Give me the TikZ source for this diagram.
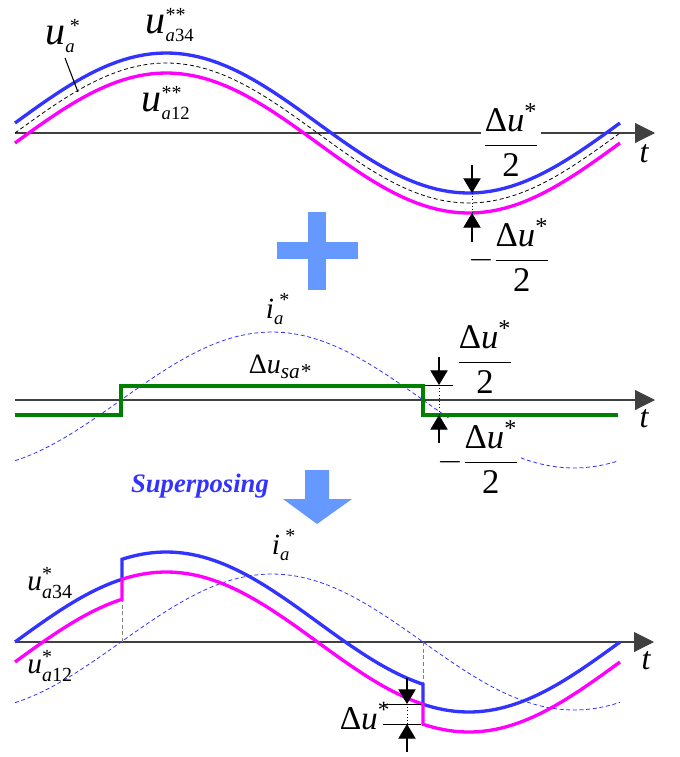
\documentclass[tikz,border=0pt]{standalone}
\usepackage{amsmath}
\usepackage{fontspec}
\setmainfont{Liberation Serif}
\usepackage{tikz}
\usetikzlibrary{arrows.meta}
\definecolor{WaveBlue}{HTML}{3333FF}
\definecolor{WaveMag}{HTML}{FF00FF}
\definecolor{WaveGreen}{HTML}{008000}
\definecolor{Sky}{HTML}{6699FF}
\newcommand{\fsz}[1]{\fontsize{#1}{#1}\selectfont}
\newcommand{\vu}{\text{\itshape u}}
\newcommand{\dlt}{\text{Δ}}
\newcommand{\half}{\dfrac{\dlt\vu^{\text{*}}}{\text{2}}}

\begin{document}
\begin{tikzpicture}[
      x=0.75pt, y=-0.75pt,
      axis/.style={draw=black!75, line width=0.8pt, -{Triangle[length=15pt,width=15pt]}},
      w34/.style={draw=WaveBlue, line width=2.5pt},
      w12/.style={draw=WaveMag, line width=2.5pt},
      refw/.style={draw=black, line width=0.6pt, dash pattern=on 3pt off 2pt},
      curw/.style={draw=WaveBlue, line width=0.6pt, dash pattern=on 3pt off 2pt},
      sqw/.style={draw=WaveGreen, line width=2.6pt},
      dimarr/.style={-{Triangle[length=11pt,width=13pt]}, line width=0.8pt},
      lbl/.style={inner sep=1pt},
      frac/.style={fill=white, inner sep=2pt, font=\fsz{26}}
    ]
      \useasboundingbox (0,0) rectangle (680,757);
      % top panel: reference and modulation waves
      \coordinate (axAs) at (15,133);
      \coordinate (axAe) at (655,133);
      \draw[axis] (axAs) -- (axAe);
      \node[lbl, font=\fsz{24}\itshape] (tA) at (644,154) {t};
      \node[frac] (hlfA) at (511,140) {$\half$};
      \draw[refw] plot[domain=15:620, samples=90] (\x,{133-70*sin((\x-15)/605*360)});
      \draw[w34] plot[domain=15:620, samples=90] (\x,{123-70*sin((\x-15)/605*360)});
      \draw[w12] plot[domain=15:620, samples=90] (\x,{143-70*sin((\x-15)/605*360)});
      \node[lbl, font=\fsz{30}] (lbUa) at (63,36) {$\vu_{\text{\fsz{14}\itshape a}}^{\,\text{\fsz{15}*}}$};
      \coordinate (lbUaEnd) at (78,92);
      \draw[line width=0.8pt] (65,58) -- (lbUaEnd);
      \node[lbl, font=\fsz{30}] (lbUa34) at (170,25) {$\vu_{\text{\fsz{14}\itshape a\upshape 34}}^{\text{\fsz{15}**}}$};
      \node[lbl, font=\fsz{30}] (lbUa12) at (166,103) {$\vu_{\text{\fsz{14}\itshape a\upshape 12}}^{\text{\fsz{15}**}}$};
      \node[lbl, font=\fsz{26}] (hlfB) at (509,255) {$-\half$};
      % plus sign
      \fill[Sky] (308,212) rectangle (326,290);
      \fill[Sky] (277,242) rectangle (358,259);
      % middle panel: common-mode square wave
      \coordinate (axBs) at (15,400);
      \coordinate (axBe) at (655,400);
      \draw[axis] (axBs) -- (axBe);
      \node[lbl, font=\fsz{24}\itshape] (tB) at (644,419) {t};
      \draw[curw] plot[domain=15:618, samples=90] (\x,{400-68*sin((\x-121)/604*360)});
      \draw[sqw] (15,415) -- (121,415) -- (121,386) -- (423,386) -- (423,415) -- (618,415);
      \draw[line width=0.6pt] (425,385) -- (453,385);
      \node[lbl, font=\fsz{22}] (lbIa) at (278,309) {$\text{\itshape i}_{\text{\fsz{14}\itshape a}}^{\;\text{\fsz{15}*}}$};
      \node[lbl, font=\fsz{21}] (lbDus) at (280,367) {$\dlt\vu_{\text{\fsz{16}\itshape sa*}}$};
      \node[frac, fill=none] (hlfC) at (485,357) {$\half$};
      \node[frac] (hlfD) at (478,457) {$-\half$};
      % superposing arrow
      \node[font=\fsz{20}\bfseries\itshape, text=WaveBlue] (sup) at (200,486) {Superposing};
      \fill[Sky] (305,470) -- (329,470) -- (329,499) -- (352,499) -- (317,524) -- (283,499) -- (305,499) -- cycle;
      % bottom panel: resulting modulation waves
      \coordinate (axCs) at (15,642);
      \coordinate (axCe) at (654,642);
      \draw[axis] (axCs) -- (axCe);
      \node[lbl, font=\fsz{24}\itshape] (tC) at (646,661) {t};
      \draw[curw] plot[domain=15:620, samples=90] (\x,{642-68*sin((\x-121)/604*360)});
      \draw[gray, line width=0.6pt, dash pattern=on 3pt off 2pt] (122,642) -- (122,600);
      \draw[gray, line width=0.6pt, dash pattern=on 3pt off 2pt] (423,642) -- (423,684);
      \draw[w34] plot[domain=15:122, samples=30] (\x,{642-70*sin((\x-15)/605*360)})
        -- plot[domain=122:423, samples=60] (\x,{622-70*sin((\x-15)/605*360)})
        -- plot[domain=423:620, samples=40] (\x,{642-70*sin((\x-15)/605*360)});
      \draw[w12] plot[domain=15:122, samples=30] (\x,{662-70*sin((\x-15)/605*360)})
        -- plot[domain=122:423, samples=60] (\x,{642-70*sin((\x-15)/605*360)})
        -- plot[domain=423:620, samples=40] (\x,{662-70*sin((\x-15)/605*360)});
      \draw[line width=0.6pt] (383,704) -- (421,704);
      \draw[line width=0.6pt] (383,724) -- (421,724);
      \node[lbl, font=\fsz{22}] (lbU34) at (50,583) {$\vu_{\text{\fsz{15}\itshape a\upshape 34}}^{\text{\fsz{15}*}}$};
      \node[lbl, font=\fsz{22}] (lbU12) at (50,666) {$\vu_{\text{\fsz{15}\itshape a\upshape 12}}^{\text{\fsz{15}*}}$};
      \node[lbl, font=\fsz{22}] (lbIb) at (284,545) {$\text{\itshape i}_{\text{\fsz{14}\itshape a}}^{\;\text{\fsz{15}*}}$};
      \node[lbl, font=\fsz{25}] (lbDu) at (365,716) {$\dlt\vu^{\text{*}}$};
      % dimension arrows
      \foreach \x/\a/\b/\c/\d in {472/165/193/213/242, 439/357/385/415/443, 407/678/704/724/752}{
        \draw[dimarr] (\x,\a) -- (\x,\b);
        \draw[dimarr] (\x,\d) -- (\x,\c);
        \draw[line width=0.4pt, dotted] (\x,\b) -- (\x,\c);
      }
    \end{tikzpicture}
\end{document}
